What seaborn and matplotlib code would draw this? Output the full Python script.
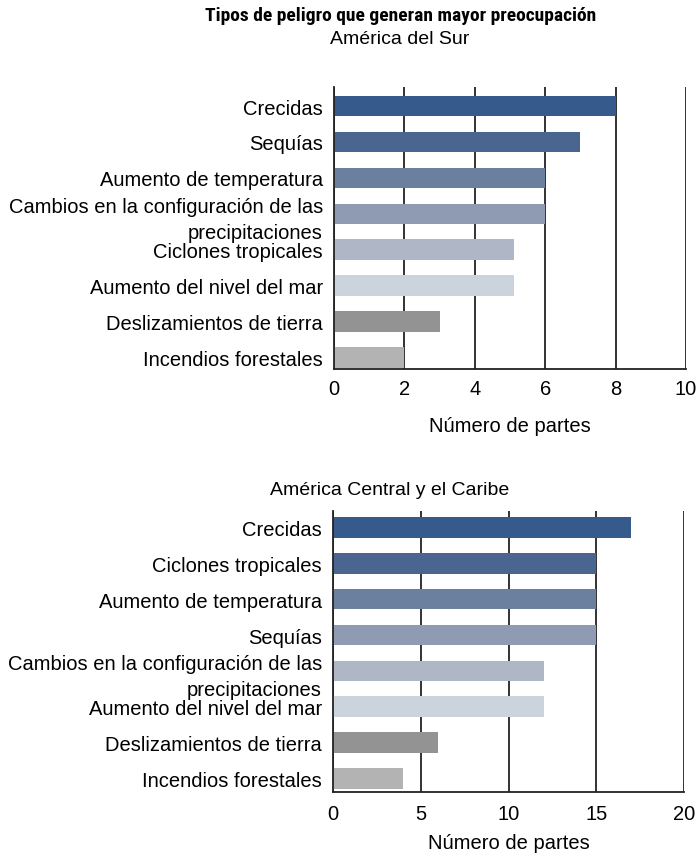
import matplotlib
matplotlib.use("Agg")
import matplotlib.pyplot as plt
import seaborn as sns
import pandas as pd

sns.set_theme(style="white")
plt.rcParams['font.family'] = ['Liberation Sans', 'DejaVu Sans']
for k in ['text.color', 'axes.labelcolor', 'xtick.color', 'ytick.color']:
    plt.rcParams[k] = 'black'

title = "Tipos de peligro que generan mayor preocupación"
sub1 = "América del Sur"
sub2 = "América Central y el Caribe"
xlabel = "Número de partes"

cats_sur = ["Crecidas", "Sequías", "Aumento de temperatura",
            "Cambios en la configuración de las\nprecipitaciones",
            "Ciclones tropicales", "Aumento del nivel del mar",
            "Deslizamientos de tierra", "Incendios forestales"]
vals_sur = [8, 7, 6, 6, 5.1, 5.1, 3, 2]
ticks_sur = [0, 2, 4, 6, 8, 10]

cats_cen = ["Crecidas", "Ciclones tropicales", "Aumento de temperatura", "Sequías",
            "Cambios en la configuración de las\nprecipitaciones",
            "Aumento del nivel del mar", "Deslizamientos de tierra",
            "Incendios forestales"]
vals_cen = [17, 15, 15, 15, 12, 12, 6, 4]
ticks_cen = [0, 5, 10, 15, 20]

colors = ["#365a8c", "#4a6690", "#6b7f9f", "#8e9bb3", "#afb7c7", "#cbd3dc",
          "#939393", "#b3b3b3"]

W, H = 699, 854
fig = plt.figure(figsize=(W / 100, H / 100), dpi=100)
FS = 14.5


def draw(rect, cats, vals, ticks, ylim, xpad, lpad):
    ax = fig.add_axes(rect)
    ax.set_axisbelow(True)
    df = pd.DataFrame({"cat": cats, "val": vals})
    sns.barplot(data=df, x="val", y="cat", hue="cat", palette=colors,
                orient="h", width=0.57, legend=False, ax=ax,
                edgecolor='none', linewidth=0, saturation=1)
    ax.set_xlim(ticks[0], ticks[-1])
    ax.set_ylim(*ylim)
    ax.set_xticks(ticks)
    ax.set_xticklabels([str(t) for t in ticks], fontsize=FS)
    ax.tick_params(axis='y', labelsize=FS, length=0, pad=8)
    ax.tick_params(axis='x', length=0, pad=xpad)
    for lbl in ax.get_yticklabels():
        lbl.set_linespacing(1.45)
    ax.grid(axis='x', color='#222222', lw=1.3)
    ax.grid(axis='y', visible=False)
    for s in ['top', 'right']:
        ax.spines[s].set_visible(False)
    for s in ['left', 'bottom']:
        ax.spines[s].set_color('#222222')
        ax.spines[s].set_linewidth(1.3)
    ax.set_ylabel("")
    ax.set_xlabel(xlabel, fontsize=FS, labelpad=lpad)
    return ax


draw([334 / W, 1 - 370 / H, 352 / W, 282 / H], cats_sur, vals_sur, ticks_sur,
     (7.32, -0.53), 7, 13)
draw([333 / W, 1 - 793 / H, 351 / W, 281 / H], cats_cen, vals_cen, ticks_cen,
     (7.38, -0.46), 9, 6.5)

fig.text(401 / W, 1 - 16 / H, title, ha='center', va='center', fontsize=14,
         fontweight='bold', family=['Roboto Condensed', 'Liberation Sans'])
fig.text(400 / W, 1 - 40 / H, sub1, ha='center', va='center', fontsize=14)
fig.text(390 / W, 1 - 491 / H, sub2, ha='center', va='center', fontsize=14)

fig.savefig("out.png", dpi=100)
